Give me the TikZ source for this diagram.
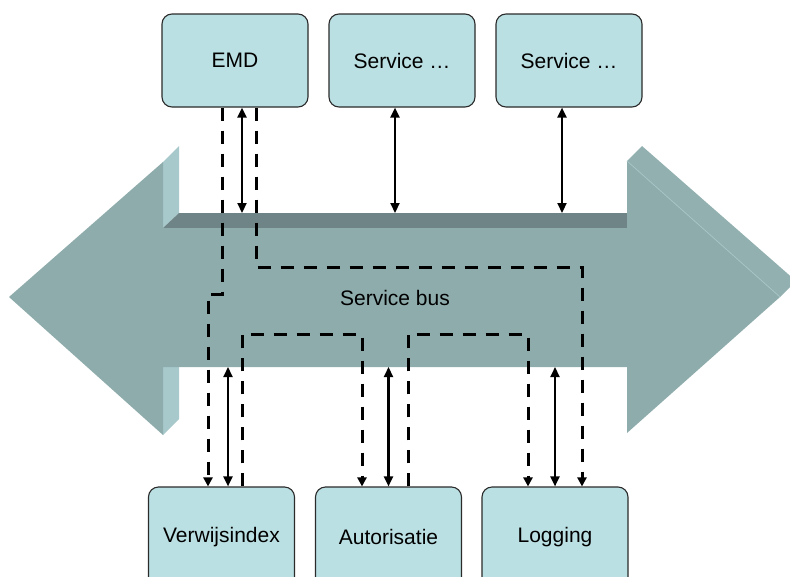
\documentclass[tikz,border=0pt]{standalone}
\usepackage{fontspec}
\setmainfont{Liberation Sans}
\usetikzlibrary{arrows.meta}
\definecolor{busfront}{HTML}{8FACAC}
\definecolor{busband}{HTML}{6E8486}
\definecolor{buslight}{HTML}{A8C9CB}
\definecolor{bustopr}{HTML}{92B0B0}
\definecolor{busedge}{HTML}{A6C4C5}
\definecolor{boxfill}{HTML}{BBE0E3}
\definecolor{boxline}{HTML}{2B2B2B}
\tikzset{
  svcbox/.style={draw=boxline, line width=1.1pt, fill=boxfill, rounded corners=10pt,
    minimum width=146pt, minimum height=93pt, inner sep=0pt,
    font=\fontsize{21}{25}\selectfont},
  lowbox/.style={svcbox, minimum height=100pt},
  dbl/.style={line width=2.2pt, {Triangle[length=10pt,width=9pt]}-{Triangle[length=10pt,width=9pt]}},
  dsh/.style={line width=3pt, dash pattern=on 13pt off 10pt, line join=miter},
  dsharrow/.style={dsh, -{Triangle[length=9pt,width=9pt]}},
  buslabel/.style={font=\fontsize{21}{25}\selectfont, inner sep=0pt}
}
\begin{document}
\begin{tikzpicture}[x=1pt,y=-1pt]
\useasboundingbox (0,0) rectangle (790,576);
\begin{scope}
\clip (0,0) rectangle (790,576);
% bus arrow: back parts
\fill[bustopr] (627,161) -- (642,146) -- (796,281) -- (780,297) -- cycle;
\fill[buslight] (163,162) -- (179,146) -- (179,213) -- (163,228) -- cycle;
\fill[buslight] (163,367) -- (179,367) -- (179,419) -- (163,435) -- cycle;
\fill[busband] (163,228) -- (179,213) -- (627,213) -- (627,228) -- cycle;
% front face
\fill[busfront] (9,297) -- (163,162) -- (163,228) -- (627,228) -- (627,161)
  -- (780,297) -- (627,433) -- (627,367) -- (163,367) -- (163,435) -- cycle;
\draw[busedge, line width=0.8pt] (627,161) -- (780,297);
\end{scope}
\node[buslabel] (bus) at (395,298) {Service bus};
\coordinate (bustop) at (0,213);
\coordinate (busbot) at (0,367);
% boxes
\node[svcbox] (emd) at (235,60.5) {EMD};
\node[svcbox] (s2) at (402,60.5) {Service \dots};
\node[svcbox] (s3) at (569,60.5) {Service \dots};
\node[lowbox] (vi) at (221.5,537) {Verwijsindex};
\node[lowbox] (au) at (388.5,537) {Autorisatie};
\node[lowbox] (lg) at (555,537) {Logging};
% solid double arrows
\draw[dbl] ([xshift=7pt]emd.south) -- ([xshift=7pt]emd.south |- bustop);
\draw[dbl] ([xshift=-7pt]s2.south) -- ([xshift=-7pt]s2.south |- bustop);
\draw[dbl] ([xshift=-7pt]s3.south) -- ([xshift=-7pt]s3.south |- bustop);
\draw[dbl] ([xshift=6.5pt]vi.north |- busbot) -- ([xshift=6.5pt]vi.north);
\draw[dbl] (au.north |- busbot) -- (au.north);
\draw[dbl] (lg.north |- busbot) -- (lg.north);
% dashed message routes
\draw[dsharrow] ([xshift=-13pt]emd.south) -- (222,294) -- (208,294) -- ([xshift=-13.5pt]vi.north);
\draw[dsharrow] ([xshift=21pt]emd.south) -- (256,267) -- (582,267) -- ([xshift=27pt]lg.north);
\draw[dsharrow] ([xshift=20.5pt]vi.north) -- (242,334) -- (362,334) -- ([xshift=-26.5pt]au.north);
\draw[dsharrow] ([xshift=19.5pt]au.north) -- (408,334) -- (528,334) -- ([xshift=-27pt]lg.north);
\end{tikzpicture}
\end{document}
